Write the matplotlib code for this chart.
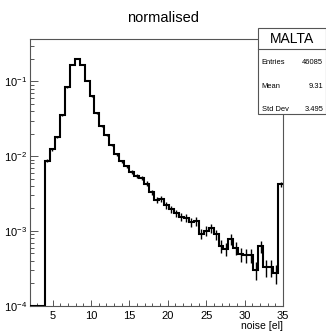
import numpy as np
import matplotlib
matplotlib.use("Agg")
import matplotlib.pyplot as plt
from matplotlib.patches import Rectangle
from matplotlib.lines import Line2D
from matplotlib.ticker import MultipleLocator, LogLocator, NullFormatter, FixedLocator

plt.rcParams['font.family'] = ['Liberation Sans', 'DejaVu Sans']
plt.rcParams['mathtext.fontset'] = 'custom'
plt.rcParams['mathtext.rm'] = 'Liberation Sans'
plt.rcParams['mathtext.it'] = 'Liberation Sans'
plt.rcParams['mathtext.bf'] = 'Liberation Sans'

# ---- data ----
title = "normalised"
x_label = "noise [el]"
hist_name = "MALTA"
stat_labels = ["Entries", "Mean", "Std Dev"]
stat_values = ["46085", "9.31", "3.495"]
n_entries = 46085

x_lo, x_hi, n_bins = 2.06, 35.0, 51
y_lo, y_hi = 1e-4, 0.37

values = [
    0.0, 0.0, 0.0,
    8.7e-3, 1.24e-2, 1.80e-2, 3.57e-2, 8.4e-2, 0.167, 0.199, 0.167, 0.103, 6.3e-2,
    3.77e-2, 2.55e-2, 1.93e-2, 1.42e-2, 1.07e-2, 8.5e-3, 7.3e-3, 6.1e-3, 5.5e-3, 5.1e-3,
    4.3e-3, 3.3e-3, 2.6e-3, 2.7e-3, 2.2e-3, 1.96e-3, 1.73e-3, 1.54e-3, 1.49e-3, 1.31e-3,
    1.35e-3, 9.1e-4, 1.0e-3, 1.1e-3, 9.0e-4, 6.3e-4, 5.8e-4, 7.8e-4, 5.9e-4, 4.9e-4,
    4.8e-4, 4.7e-4, 3.0e-4, 6.2e-4, 3.3e-4, 3.3e-4, 2.7e-4, 4.2e-3,
]
x_ticks = [5, 10, 15, 20, 25, 30, 35]

# ---- figure ----
W, H = 326, 333
fig = plt.figure(figsize=(W / 100, H / 100), dpi=100)
fig.patch.set_facecolor('white')

def fx(px):
    return px / W

def fy(py):
    return 1 - py / H

ax = fig.add_axes([fx(30), fy(305.7), fx(283) - fx(30), fy(39) - fy(305.7)])

edges = np.linspace(x_lo, x_hi, n_bins + 1)
vals = np.array(values)
centers = 0.5 * (edges[:-1] + edges[1:])
plot_vals = np.where(vals > 0, vals, y_lo)

ax.stairs(plot_vals, edges, baseline=None, color='black', lw=1.5, zorder=3)
mask = vals > 0
errs = np.sqrt(vals[mask] / n_entries)
ax.errorbar(centers[mask], vals[mask], yerr=errs, fmt='none', ecolor='black',
            elinewidth=1.0, capsize=0, zorder=3)

ax.set_yscale('log')
ax.set_xlim(x_lo, x_hi)
ax.set_ylim(y_lo, y_hi)

ax.xaxis.set_major_locator(FixedLocator(x_ticks))
ax.set_xticklabels([str(t) for t in x_ticks])
ax.xaxis.set_minor_locator(MultipleLocator(1))
ax.yaxis.set_major_locator(LogLocator(base=10, numticks=10))
ax.yaxis.set_minor_locator(LogLocator(base=10, subs=np.arange(2, 10), numticks=20))
ax.yaxis.set_minor_formatter(NullFormatter())

ax.tick_params(which='both', direction='in', top=False, right=False, labelsize=8,
               color='#555555', width=0.7)
ax.tick_params(axis='x', which='major', length=4.5, pad=4)
ax.tick_params(axis='x', which='minor', length=2.2)
ax.tick_params(axis='y', which='major', length=5.8, pad=2)
ax.tick_params(axis='y', which='minor', length=2.9)

for sp in ax.spines.values():
    sp.set_linewidth(0.8)
    sp.set_color('#555555')

fig.text(0.5, fy(17.7), title, ha='center', va='center', fontsize=10.5)
fig.text(fx(283), fy(326), x_label, ha='right', va='center', fontsize=7.5)

# ---- stats box ----
bx0, bx1, by0, by1, bsep = 258.3, 325.5, 28.3, 114.3, 49.3
box = Rectangle((fx(bx0), fy(by1)), fx(bx1) - fx(bx0), fy(by0) - fy(by1),
                transform=fig.transFigure, facecolor='white', edgecolor='#555555',
                lw=0.8, zorder=10)
fig.add_artist(box)
fig.add_artist(Line2D([fx(bx0), fx(bx1)], [fy(bsep), fy(bsep)], transform=fig.transFigure,
                      color='#555555', lw=0.8, zorder=11))
fig.text(fx(292.3), fy(39), hist_name, ha='center', va='center', fontsize=10, zorder=12)
for lab, val, yy in zip(stat_labels, stat_values, [62.3, 86.7, 109.3]):
    fig.text(fx(261.7), fy(yy), lab, ha='left', va='center', fontsize=5.4, zorder=12)
    fig.text(fx(323.3), fy(yy), val, ha='right', va='center', fontsize=5.4, zorder=12)

fig.savefig("out.png", dpi=100)
